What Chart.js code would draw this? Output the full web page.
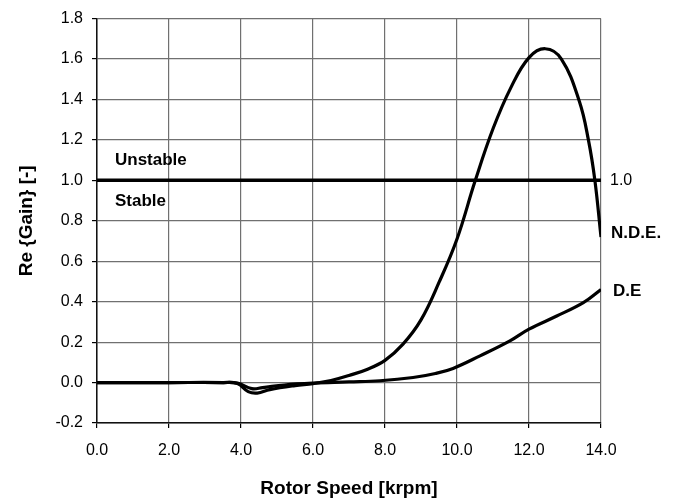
<!DOCTYPE html>
<html>
<head>
<meta charset="utf-8">
<script src="https://cdn.jsdelivr.net/npm/chart.js@4/dist/chart.umd.min.js"></script>
<style>
  html, body { margin: 0; padding: 0; background: #fff; }
  #wrap { width: 674px; height: 498px; }
</style>
</head>
<body>
<div id="wrap"><canvas id="gainChart" width="674" height="498"></canvas></div>
<script>
// Rotor speed [krpm] and Re{Gain}
const speedNDE = [0, 2, 3.5, 3.9, 4.2, 4.45, 4.8, 5.5, 6.0, 6.5, 7.0, 7.5, 8.0, 8.5, 9.0, 9.5, 10.0, 10.5, 11.0, 11.5, 12.0, 12.45, 12.9, 13.4, 13.65, 13.83, 14.0];
const gainNDE = [0, 0, 0, -0.005, -0.045, -0.052, -0.035, -0.015, -0.005, 0.01, 0.035, 0.065, 0.11, 0.19, 0.31, 0.495, 0.71, 0.995, 1.255, 1.46, 1.607, 1.651, 1.60, 1.39, 1.2, 1.0, 0.72];

const speedDE = [0, 2, 3.5, 3.9, 4.3, 4.6, 5.2, 6.0, 7.0, 7.86, 8.78, 9.4, 9.89, 10.64, 11.47, 12.0, 12.77, 13.51, 14.0];
const gainDE = [0, 0, 0, -0.003, -0.03, -0.025, -0.012, -0.003, 0.003, 0.009, 0.025, 0.045, 0.07, 0.132, 0.206, 0.264, 0.329, 0.395, 0.46];

const limitSpeed = [0, 14];
const limitGain = [1.0, 1.0];

const xTicks = [0, 2, 4, 6, 8, 10, 12, 14];
const yTicks = [-0.2, 0, 0.2, 0.4, 0.6, 0.8, 1.0, 1.2, 1.4, 1.6, 1.8];

const zip = (xs, ys) => xs.map((x, i) => ({ x: x, y: ys[i] }));

// text labels inside / right of the plot
const labelPlugin = {
  id: 'labels',
  afterDatasetsDraw(chart) {
    const ctx = chart.ctx;
    const xs = chart.scales.x;
    const ys = chart.scales.y;
    ctx.save();
    ctx.fillStyle = '#000';
    ctx.textBaseline = 'middle';
    ctx.textAlign = 'left';
    ctx.font = 'bold 17px "Liberation Sans", Arial, sans-serif';
    ctx.fillText('Unstable', xs.getPixelForValue(0.5), ys.getPixelForValue(1.1));
    ctx.fillText('Stable', xs.getPixelForValue(0.5), ys.getPixelForValue(0.894));
    ctx.fillText('N.D.E.', xs.getPixelForValue(14.28), ys.getPixelForValue(0.74));
    ctx.fillText('D.E', xs.getPixelForValue(14.33), ys.getPixelForValue(0.45));
    ctx.font = '16px "Liberation Sans", Arial, sans-serif';
    ctx.fillText('1.0', xs.getPixelForValue(14.25), ys.getPixelForValue(1.0));
    ctx.restore();
  }
};

const gridColor = '#707070';

new Chart(document.getElementById('gainChart'), {
  type: 'line',
  data: {
    datasets: [
      {
        label: '1.0',
        data: zip(limitSpeed, limitGain),
        borderColor: '#000',
        borderWidth: 3.5,
        pointRadius: 0,
        tension: 0
      },
      {
        label: 'N.D.E.',
        data: zip(speedNDE, gainNDE),
        borderColor: '#000',
        borderWidth: 3.2,
        pointRadius: 0,
        tension: 0.4
      },
      {
        label: 'D.E',
        data: zip(speedDE, gainDE),
        borderColor: '#000',
        borderWidth: 3.2,
        pointRadius: 0,
        tension: 0.4
      }
    ]
  },
  options: {
    responsive: false,
    animation: false,
    layout: { padding: { left: 0, right: 73, top: 17, bottom: 0 } },
    plugins: {
      legend: { display: false },
      tooltip: { enabled: false }
    },
    scales: {
      x: {
        type: 'linear',
        min: 0,
        max: 14,
        afterBuildTicks: (scale) => { scale.ticks = xTicks.map(v => ({ value: v })); },
        afterFit: (scale) => { scale.height = 75; },
        ticks: {
          color: '#000',
          padding: 13,
          maxRotation: 0,
          font: { family: '"Liberation Sans", Arial, sans-serif', size: 16 },
          callback: (v) => Number(v).toFixed(1)
        },
        grid: { color: gridColor, lineWidth: 1.2, tickLength: 5, tickColor: '#000' },
        border: { color: '#111', width: 1.5 },
        title: {
          display: true,
          text: 'Rotor Speed [krpm]',
          color: '#000',
          padding: { top: 0, bottom: 0 },
          font: { family: '"Liberation Sans", Arial, sans-serif', size: 19, weight: 'bold', lineHeight: 1 }
        }
      },
      y: {
        type: 'linear',
        min: -0.2,
        max: 1.8,
        afterBuildTicks: (scale) => { scale.ticks = yTicks.map(v => ({ value: v })); },
        afterFit: (scale) => { scale.width = 97; },
        ticks: {
          color: '#000',
          padding: 9,
          font: { family: '"Liberation Sans", Arial, sans-serif', size: 16 },
          callback: (v) => (Math.round(v * 10) / 10).toFixed(1)
        },
        grid: { color: gridColor, lineWidth: 1.2, tickLength: 5, tickColor: '#000' },
        border: { color: '#111', width: 1.5 },
        title: {
          display: true,
          text: 'Re {Gain} [-]',
          color: '#000',
          padding: { top: 17, bottom: 0 },
          font: { family: '"Liberation Sans", Arial, sans-serif', size: 19, weight: 'bold', lineHeight: 1 }
        }
      }
    }
  },
  plugins: [labelPlugin]
});
</script>
</body>
</html>
